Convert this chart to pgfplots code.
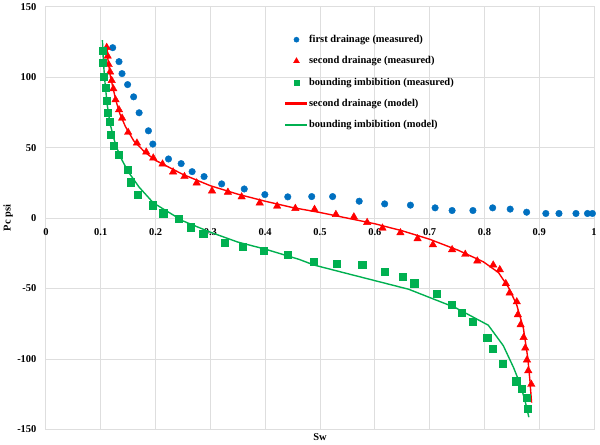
\documentclass[border=0pt]{standalone}
\usepackage{pgfplots}
\pgfplotsset{compat=1.18}
\usepackage{fontspec}
\setmainfont{Liberation Serif}
\definecolor{xblue}{HTML}{0070C0}
\definecolor{xred}{HTML}{FF0000}
\definecolor{xgreen}{HTML}{00B050}
\begin{document}
\begin{tikzpicture}
\begin{axis}[
  scale only axis, width=550pt, height=424pt,
  xmin=0, xmax=1, ymin=-150, ymax=150,
  xtick={0,0.1,0.2,0.3,0.4,0.5,0.6,0.7,0.8,0.9,1},
  xticklabels={0,0.1,0.2,0.3,0.4,0.5,0.6,0.7,0.8,0.9,1},
  ytick={-150,-100,-50,0,50,100,150},
  major tick length=0pt,
  grid=major,
  major grid style={draw=black!13, line width=0.9pt},
  axis line style={draw=black!13, line width=0.9pt},
  font=\fontsize{10.5}{12}\selectfont\bfseries,
  /pgf/number format/assume math mode=true,
  xticklabel style={yshift=205pt},
  yticklabel style={xshift=-6pt},
  xlabel={Sw}, ylabel={Pc psi},
  xlabel style={at={(axis description cs:0.5,0)}, anchor=north, yshift=-1pt},
  ylabel style={at={(axis description cs:0,0.5)}, anchor=center, yshift=38pt},
  legend style={draw=none, fill=none, at={(axis cs:0.43,132.8)}, anchor=north west,
    font=\fontsize{10.5}{12}\selectfont\bfseries, row sep=8.6pt},
  legend cell align=left,
  clip=false,
]
\addplot[only marks, mark=*, mark size=3.3pt, color=xblue,
  legend image code/.code={\draw[mark=*, mark size=2.6pt, color=xblue] plot coordinates {(11pt,0pt)};}]
coordinates {
(0.1218,121) (0.1333,111.1) (0.1388,102.6) (0.149,94.8) (0.160,86.1) (0.170,74.8)
(0.187,62) (0.195,52.6) (0.2236,42) (0.2467,38.7) (0.2667,33) (0.2885,29.5)
(0.3206,24.3) (0.3618,20.7) (0.3994,16.7) (0.4412,15.1) (0.4849,15.3) (0.523,15.3)
(0.5715,12) (0.618,10.1) (0.665,9.2) (0.710,7.3) (0.741,5.4) (0.779,5.4)
(0.815,7.3) (0.847,6.4) (0.877,4.2) (0.912,3.3) (0.936,3.3) (0.967,3.3)
(0.988,3.3) (0.997,3.3)
};
\addlegendentry{first drainage (measured)}
\addplot[only marks, mark=triangle*, mark size=4.3pt, color=xred,
  legend image code/.code={\draw[mark=triangle*, mark size=3.4pt, color=xred] plot coordinates {(11pt,0pt)};}]
coordinates {
(0.1109,121.2) (0.1127,115) (0.1145,109) (0.117,103.8) (0.120,97.7) (0.123,91.8)
(0.127,84) (0.1333,76.9) (0.139,71) (0.150,60.9) (0.166,53.3) (0.183,46.9)
(0.1958,42.7) (0.2127,38.4) (0.232,32.8) (0.2527,29.5) (0.275,25) (0.303,19.3)
(0.332,18.4) (0.357,15.1) (0.390,10.8) (0.4218,8.5) (0.455,6.9) (0.490,6.2)
(0.529,2.6) (0.5618,0.9) (0.586,-3.1) (0.614,-7.1) (0.6467,-10.4) (0.678,-14.6)
(0.706,-18.9) (0.741,-22.4) (0.765,-25.7) (0.787,-30.4) (0.816,-33.3) (0.828,-36.6)
(0.839,-46.5) (0.846,-53.1) (0.859,-59.4) (0.861,-68.6) (0.866,-75.7) (0.8715,-84.7)
(0.8745,-92.2) (0.8776,-100.7) (0.880,-108.3) (0.8855,-118)
};
\addlegendentry{second drainage (measured)}
\addplot[only marks, mark=square*, mark size=3.6pt, color=xgreen,
  legend image code/.code={\draw[mark=square*, mark size=2.6pt, color=xgreen] plot coordinates {(11pt,0pt)};}]
coordinates {
(0.103,119.1) (0.104,110.2) (0.106,100.3) (0.1085,92.7) (0.1103,83.5) (0.1133,74.8)
(0.1158,68.2) (0.118,59.4) (0.1236,51.7) (0.1333,45) (0.149,34.2) (0.1545,25.5)
(0.167,16.7) (0.195,9.2) (0.214,3.5) (0.242,-0.2) (0.2636,-6.4) (0.287,-11.1)
(0.326,-17.7) (0.3594,-20.5) (0.398,-23.4) (0.441,-26.2) (0.489,-30.9) (0.531,-32.1)
(0.577,-33) (0.6176,-38.2) (0.651,-41.8) (0.672,-46.2) (0.713,-53.6) (0.741,-61.3)
(0.7588,-67) (0.7788,-73.6) (0.805,-84.9) (0.815,-92.5) (0.8327,-103.5) (0.858,-115.8)
(0.8685,-121.2) (0.877,-127.6) (0.8794,-135.4)
};
\addlegendentry{bounding imbibition (measured)}
\addplot[color=xred, line width=1.4pt,
  legend image code/.code={\fill[xred] (0pt,-0.8pt) rectangle (21pt,0.8pt);}]
coordinates {
(0.111,123.4) (0.113,113) (0.117,102) (0.122,93) (0.128,83) (0.135,74) (0.145,65)
(0.160,55) (0.180,47) (0.200,41) (0.250,31) (0.300,23) (0.350,17) (0.400,12)
(0.450,7.5) (0.500,4) (0.550,0) (0.600,-4) (0.650,-9) (0.700,-15) (0.7527,-22.9)
(0.798,-31) (0.8255,-38.6) (0.8436,-49) (0.8588,-61.5) (0.871,-78) (0.879,-99)
(0.883,-115.4) (0.886,-131)
};
\addlegendentry{second drainage (model)}
\addplot[color=xgreen, line width=1.4pt,
  legend image code/.code={\fill[xgreen] (0pt,-0.8pt) rectangle (21pt,0.8pt);}]
coordinates {
(0.103,126.4) (0.105,110) (0.108,95) (0.112,80) (0.117,67) (0.125,55) (0.135,44)
(0.150,33) (0.170,22) (0.196,10.8) (0.250,-2) (0.300,-10) (0.350,-17) (0.400,-22)
(0.462,-29.3) (0.489,-33.3) (0.550,-39.4) (0.6618,-50.5) (0.7467,-63.5) (0.807,-76)
(0.8345,-90.6) (0.853,-106) (0.865,-117.7) (0.874,-129.5) (0.881,-141.3)
};
\addlegendentry{bounding imbibition (model)}
\end{axis}
\path (current axis.south west) ++(-46pt,-14pt) (current axis.north east) ++(4pt,5pt);
\end{tikzpicture}
\end{document}
